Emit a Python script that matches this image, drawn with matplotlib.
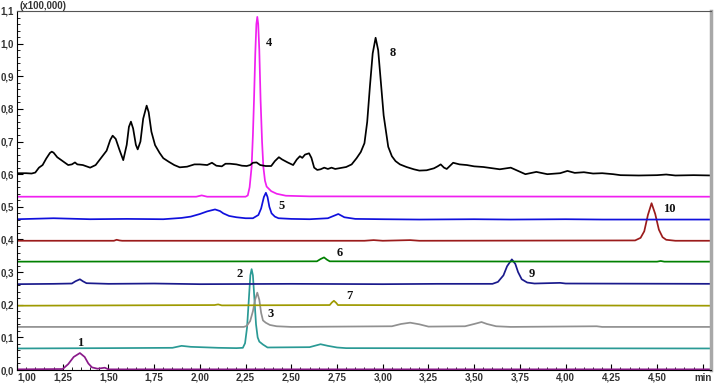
import matplotlib
matplotlib.use("Agg")
import matplotlib.pyplot as plt
from matplotlib.ticker import MultipleLocator, AutoMinorLocator, FuncFormatter

# chromatogram traces, time in min, intensity in units of 100,000
black_t = [1.00, 1.05, 1.08, 1.10, 1.12, 1.14, 1.16, 1.18, 1.19, 1.20, 1.22, 1.25, 1.28, 1.30, 1.317, 1.33,
           1.36, 1.40, 1.43, 1.46, 1.49, 1.51, 1.523, 1.54, 1.56, 1.581, 1.60, 1.612, 1.623, 1.635, 1.65,
           1.66, 1.675, 1.69, 1.709, 1.72, 1.735, 1.755, 1.78, 1.80, 1.83, 1.86, 1.89, 1.93, 1.97, 2.00,
           2.04, 2.066, 2.09, 2.12, 2.14, 2.165, 2.20, 2.23, 2.256, 2.275, 2.29, 2.31, 2.33, 2.36, 2.39,
           2.41, 2.432, 2.45, 2.48, 2.51, 2.53, 2.547, 2.56, 2.575, 2.597, 2.61, 2.625, 2.642, 2.66, 2.68,
           2.70, 2.72, 2.74, 2.76, 2.80, 2.83, 2.857, 2.88, 2.90, 2.915, 2.93, 2.945, 2.961, 2.975, 2.99,
           3.005, 3.03, 3.05, 3.07, 3.094, 3.13, 3.17, 3.20, 3.24, 3.28, 3.30, 3.317, 3.335, 3.35, 3.385,
           3.42, 3.46, 3.50, 3.55, 3.60, 3.64, 3.70, 3.74, 3.78, 3.84, 3.90, 3.97, 4.01, 4.05, 4.10, 4.15,
           4.20, 4.26, 4.30, 4.40, 4.50, 4.55, 4.60, 4.70, 4.80]
black_y = [0.603, 0.603, 0.602, 0.605, 0.620, 0.628, 0.648, 0.665, 0.669, 0.666, 0.652, 0.640, 0.628, 0.630,
           0.636, 0.630, 0.628, 0.620, 0.628, 0.650, 0.672, 0.705, 0.718, 0.708, 0.675, 0.643, 0.690, 0.745,
           0.761, 0.740, 0.690, 0.676, 0.700, 0.770, 0.810, 0.790, 0.730, 0.689, 0.665, 0.649, 0.638, 0.628,
           0.621, 0.623, 0.630, 0.630, 0.628, 0.635, 0.626, 0.624, 0.632, 0.632, 0.630, 0.626, 0.625, 0.628,
           0.635, 0.636, 0.628, 0.625, 0.625, 0.640, 0.652, 0.645, 0.636, 0.628, 0.645, 0.655, 0.650, 0.660,
           0.664, 0.650, 0.620, 0.613, 0.615, 0.620, 0.616, 0.620, 0.616, 0.618, 0.622, 0.630, 0.649, 0.668,
           0.695, 0.760, 0.870, 0.970, 1.018, 0.980, 0.880, 0.780, 0.684, 0.655, 0.640, 0.630, 0.622, 0.615,
           0.611, 0.612, 0.618, 0.624, 0.630, 0.620, 0.616, 0.635, 0.630, 0.628, 0.624, 0.622, 0.618, 0.615,
           0.620, 0.610, 0.600, 0.607, 0.600, 0.603, 0.610, 0.604, 0.606, 0.602, 0.603, 0.600, 0.597, 0.596,
           0.597, 0.599, 0.596, 0.597, 0.596]

magenta_t = [1.00, 1.60, 1.98, 2.01, 2.04, 2.25, 2.262, 2.272, 2.283, 2.290, 2.296, 2.303, 2.309, 2.314,
             2.319, 2.325, 2.332, 2.340, 2.347, 2.356, 2.365, 2.39, 2.42, 2.47, 2.60, 4.80]
magenta_y = [0.531, 0.531, 0.531, 0.535, 0.531, 0.531, 0.535, 0.560, 0.623, 0.720, 0.827, 0.970, 1.060, 1.082,
             1.060, 0.980, 0.827, 0.700, 0.623, 0.580, 0.562, 0.548, 0.540, 0.534, 0.532, 0.531]

blue_t = [1.00, 1.20, 1.40, 1.60, 1.80, 1.90, 1.95, 2.00, 2.04, 2.083, 2.11, 2.128, 2.16, 2.20, 2.25, 2.29,
          2.32, 2.335, 2.35, 2.361, 2.37, 2.38, 2.392, 2.41, 2.43, 2.50, 2.60, 2.70, 2.757, 2.79, 2.85,
          3.00, 3.20, 3.50, 3.70, 4.00, 4.20, 4.80]
blue_y = [0.462, 0.465, 0.462, 0.463, 0.462, 0.466, 0.470, 0.478, 0.486, 0.492, 0.487, 0.480, 0.472, 0.468,
          0.465, 0.465, 0.475, 0.495, 0.530, 0.543, 0.530, 0.500, 0.480, 0.470, 0.465, 0.463, 0.462, 0.465,
          0.478, 0.468, 0.463, 0.462, 0.461, 0.462, 0.461, 0.462, 0.461, 0.461]

red_t = [1.00, 1.53, 1.545, 1.56, 1.575, 2.90, 2.95, 3.00, 3.15, 3.20, 4.38, 4.41, 4.43, 4.45, 4.47,
         4.49, 4.51, 4.53, 4.55, 4.60, 4.80]
red_y = [0.396, 0.396, 0.399, 0.397, 0.396, 0.396, 0.398, 0.396, 0.398, 0.396, 0.397, 0.405, 0.425, 0.475,
         0.511, 0.478, 0.430, 0.407, 0.399, 0.396, 0.396]

green_t = [1.00, 2.64, 2.66, 2.679, 2.695, 2.71, 4.50, 4.52, 4.54, 4.80]
green_y = [0.332, 0.333, 0.340, 0.345, 0.338, 0.333, 0.332, 0.334, 0.332, 0.332]

navy_t = [1.00, 1.20, 1.30, 1.32, 1.344, 1.36, 1.38, 1.50, 1.75, 2.00, 2.50, 3.00, 3.30, 3.60, 3.63, 3.66,
          3.68, 3.706, 3.725, 3.74, 3.76, 3.79, 3.83, 3.97, 4.00, 4.80]
navy_y = [0.263, 0.264, 0.265, 0.272, 0.278, 0.272, 0.266, 0.264, 0.265, 0.263, 0.264, 0.263, 0.264, 0.264,
          0.270, 0.290, 0.318, 0.339, 0.325, 0.300, 0.278, 0.268, 0.265, 0.267, 0.265, 0.264]

olive_t = [1.00, 2.08, 2.10, 2.12, 2.71, 2.722, 2.733, 2.745, 2.755, 4.80]
olive_y = [0.197, 0.199, 0.201, 0.198, 0.199, 0.207, 0.212, 0.206, 0.199, 0.197]

gray_t = [1.00, 2.24, 2.256, 2.275, 2.29, 2.302, 2.314, 2.325, 2.335, 2.345, 2.36, 2.383, 2.42, 2.50,
          3.05, 3.10, 3.15, 3.20, 3.25, 3.45, 3.50, 3.54, 3.57, 3.62, 3.70, 4.17, 4.20, 4.80]
gray_y = [0.132, 0.132, 0.135, 0.150, 0.180, 0.215, 0.237, 0.215, 0.175, 0.152, 0.145, 0.138, 0.134, 0.132,
          0.134, 0.141, 0.145, 0.140, 0.133, 0.134, 0.141, 0.147, 0.141, 0.134, 0.132, 0.134, 0.132, 0.132]

teal_t = [1.00, 1.50, 1.85, 1.90, 1.95, 2.00, 2.05, 2.10, 2.20, 2.235, 2.247, 2.258, 2.267, 2.276, 2.283,
          2.29, 2.298, 2.307, 2.316, 2.325, 2.345, 2.37, 2.60, 2.66, 2.70, 2.75, 2.80, 4.80]
teal_y = [0.066, 0.067, 0.068, 0.074, 0.071, 0.070, 0.069, 0.068, 0.067, 0.068, 0.082, 0.130, 0.210, 0.290,
          0.309, 0.290, 0.220, 0.140, 0.100, 0.087, 0.078, 0.069, 0.070, 0.079, 0.074, 0.069, 0.067, 0.066]

purple_t = [1.00, 1.25, 1.28, 1.31, 1.344, 1.37, 1.39, 1.41, 1.44, 1.48, 1.50, 4.80]
purple_y = [0.002, 0.003, 0.018, 0.040, 0.052, 0.040, 0.020, 0.008, 0.004, 0.007, 0.002, 0.002]

peak_labels = ["1", "2", "3", "4", "5", "6", "7", "8", "9", "10"]
label_x = [1.344, 2.216, 2.387, 2.38, 2.449, 2.766, 2.815, 3.057, 3.817, 4.565]
label_y = [0.084, 0.293, 0.171, 1.003, 0.502, 0.36, 0.227, 0.972, 0.293, 0.492]

traces = [
    (purple_t, purple_y, "#8a1a8a"),
    (teal_t, teal_y, "#2a9a95"),
    (gray_t, gray_y, "#909090"),
    (olive_t, olive_y, "#9e9a00"),
    (navy_t, navy_y, "#1a1a8c"),
    (green_t, green_y, "#008000"),
    (red_t, red_y, "#9b1b1b"),
    (blue_t, blue_y, "#1010dd"),
    (magenta_t, magenta_y, "#f020f0"),
    (black_t, black_y, "#000000"),
]

fig = plt.figure(figsize=(7.18, 3.87), dpi=100)
ax = fig.add_axes([17 / 718, 17 / 387, 694 / 718, 359 / 387])

for t, y, c in traces:
    ax.plot(t, y, color=c, lw=1.25)

for s, x, y in zip(peak_labels, label_x, label_y):
    ax.text(x, y, s, ha="center", va="center", fontsize=9, fontweight="bold",
            family="Liberation Serif", color="#111111")

ax.set_xlim(1.0, 4.795)
ax.set_ylim(0.0, 1.1)

ax.xaxis.set_major_locator(MultipleLocator(0.25))
ax.xaxis.set_minor_locator(AutoMinorLocator(5))
ax.yaxis.set_major_locator(MultipleLocator(0.1))
ax.yaxis.set_minor_locator(AutoMinorLocator(5))


def xfmt(v, pos):
    if abs(v - 4.75) < 1e-6:
        return "min"
    return f"{v:.2f}".replace(".", ",")


ax.xaxis.set_major_formatter(FuncFormatter(xfmt))
ax.yaxis.set_major_formatter(FuncFormatter(lambda v, p: f"{v:.1f}".replace(".", ",")))

ax.tick_params(which="both", direction="in", labelsize=7, labelcolor="#333333", top=False, right=False)
ax.tick_params(which="major", length=4, width=0.8, pad=2)
ax.tick_params(which="minor", length=2, width=0.6)

fig.canvas.draw()
xlabs = ax.get_xticklabels()
for lab in xlabs + ax.get_yticklabels():
    lab.set_fontweight("bold")
    lab.set_family("Liberation Sans")
# first time label sits right of the corner, as in the instrument printout
for lab in xlabs:
    if lab.get_text() == "1,00":
        lab.set_horizontalalignment("left")

ax.spines["top"].set_color("#555555")
ax.spines["right"].set_color("#a8a8a8")
ax.spines["right"].set_linewidth(2.5)

ax.text(0.003, 1.0, "(x100,000)", transform=ax.transAxes, ha="left", va="bottom",
        fontsize=7, fontweight="bold", family="Liberation Sans", color="#333333")

fig.savefig("out.png", dpi=100)
